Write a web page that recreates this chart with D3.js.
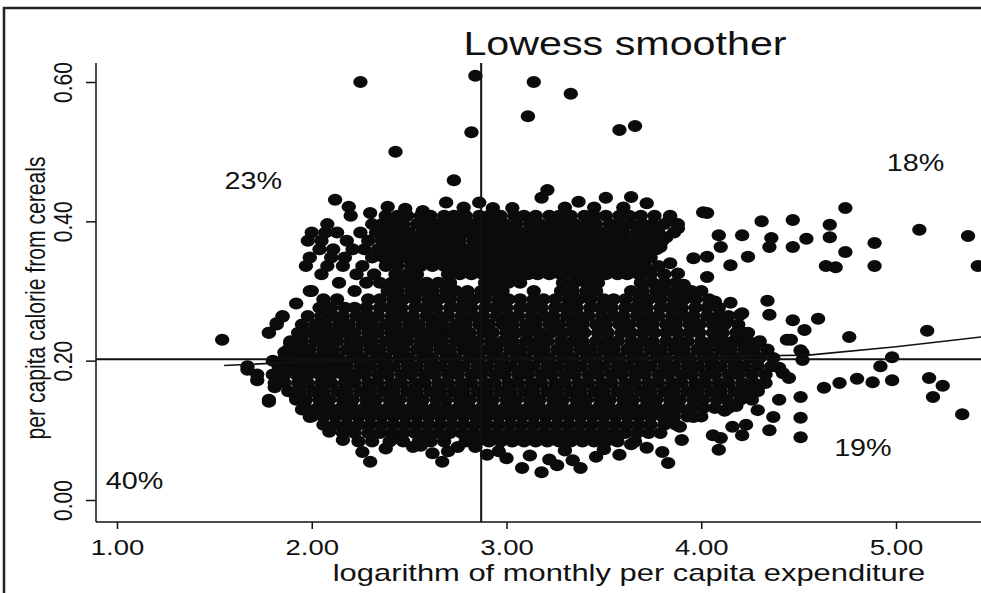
<!DOCTYPE html>
<html>
<head>
<meta charset="utf-8">
<script src="https://cdn.jsdelivr.net/npm/d3@7"></script>
<style>
body { margin: 0; background: #fff; }
text { font-family: "Liberation Sans", Arial, sans-serif; fill: #111; }
</style>
</head>
<body>
<script>
// Axis ticks
const xTicks = [1, 2, 3, 4, 5];
const yTicks = [0, 0.2, 0.4, 0.6];

// Mean reference lines
const meanX = 2.87;
const meanY = 0.202;

// Lowess smoother
const lowessX = [1.55, 2.0, 2.5, 3.0, 3.5, 4.0, 4.55, 5.0, 5.44];
const lowessY = [0.193, 0.199, 0.202, 0.204, 0.205, 0.206, 0.208, 0.220, 0.234];

// Quadrant shares
const quadrantText = ["23%", "18%", "19%", "40%"];
const quadrantX = [1.70, 5.10, 4.83, 1.09];
const quadrantY = [0.446, 0.472, 0.063, 0.016];

// Households: isolated points [log expenditure, cereal calorie share]
const outliers = [
  [2.25, 0.600], [2.84, 0.609], [3.14, 0.600], [3.33, 0.583], [3.11, 0.551],
  [2.82, 0.528], [3.58, 0.531], [3.66, 0.537], [2.43, 0.500], [2.73, 0.459]
];

const upperEdge = [
  [2.12, 0.431], [2.19, 0.421], [2.39, 0.421], [2.57, 0.415], [2.69, 0.427],
  [2.78, 0.420], [2.86, 0.427], [2.93, 0.419], [3.03, 0.419], [3.18, 0.434],
  [3.21, 0.445], [3.30, 0.420], [3.37, 0.428], [3.45, 0.420], [3.51, 0.434],
  [3.60, 0.420], [3.64, 0.435], [3.72, 0.426], [2.48, 0.418], [2.30, 0.412]
];

const rightScatter = [
  [4.03, 0.412], [4.31, 0.400], [4.47, 0.402], [4.74, 0.419], [4.66, 0.395],
  [4.66, 0.377], [4.54, 0.375], [4.47, 0.363], [4.36, 0.376], [4.35, 0.363],
  [4.21, 0.380], [4.09, 0.380], [4.10, 0.363], [4.03, 0.349], [4.15, 0.337],
  [4.24, 0.349], [4.03, 0.320], [4.74, 0.356], [4.64, 0.336], [4.69, 0.334],
  [4.89, 0.369], [4.89, 0.336], [5.12, 0.388], [5.37, 0.379], [5.42, 0.336],
  [3.84, 0.406], [3.88, 0.390], [4.01, 0.413], [3.96, 0.347], [3.91, 0.309],
  [3.73, 0.327], [3.82, 0.377], [3.79, 0.363], [3.84, 0.340], [3.88, 0.325],
  [3.92, 0.290], [3.80, 0.300],
  [4.15, 0.283], [4.34, 0.286], [4.20, 0.266], [4.35, 0.266], [4.60, 0.260],
  [4.53, 0.244], [4.44, 0.230], [4.16, 0.227], [4.76, 0.234], [5.16, 0.243],
  [4.98, 0.205], [4.92, 0.192], [4.80, 0.174], [4.88, 0.169], [4.98, 0.172],
  [5.17, 0.175], [5.24, 0.164], [5.19, 0.148], [5.34, 0.123], [4.71, 0.168],
  [4.63, 0.161], [4.52, 0.201], [4.51, 0.215], [4.13, 0.258], [4.21, 0.268],
  [4.47, 0.258], [4.46, 0.230], [4.52, 0.211], [4.40, 0.190], [4.42, 0.182],
  [4.45, 0.175], [4.28, 0.225], [4.22, 0.240], [4.10, 0.250], [4.07, 0.285],
  [4.00, 0.300]
];

const lowerEdge = [
  [1.54, 0.230], [1.67, 0.187], [1.72, 0.172], [1.81, 0.162], [1.78, 0.141],
  [1.92, 0.148], [1.78, 0.240], [1.82, 0.254], [1.85, 0.263], [1.89, 0.225],
  [1.86, 0.212], [1.80, 0.200], [1.95, 0.130], [1.92, 0.282], [2.00, 0.300],
  [1.99, 0.119], [2.09, 0.098], [2.16, 0.086],
  [2.26, 0.069], [2.30, 0.055], [2.44, 0.089], [2.52, 0.076], [2.62, 0.067],
  [2.67, 0.055], [2.75, 0.076], [2.90, 0.065], [2.96, 0.070], [3.08, 0.046],
  [3.18, 0.040], [3.26, 0.050], [3.34, 0.057], [3.38, 0.046], [3.46, 0.062],
  [3.58, 0.065], [3.72, 0.075], [3.80, 0.069], [3.83, 0.053], [3.90, 0.086],
  [4.09, 0.072], [4.10, 0.089], [4.21, 0.093], [4.23, 0.108], [4.35, 0.100],
  [4.37, 0.119], [4.51, 0.090], [4.51, 0.118], [3.89, 0.105], [4.06, 0.093],
  [3.96, 0.119], [4.16, 0.105], [4.29, 0.129], [4.40, 0.144], [4.51, 0.148],
  [4.24, 0.155], [4.30, 0.165], [4.18, 0.135], [4.12, 0.128],
  [2.38, 0.074], [2.56, 0.078], [2.70, 0.070], [2.84, 0.076], [3.00, 0.060],
  [3.12, 0.064], [3.22, 0.058], [3.30, 0.071], [3.50, 0.073], [3.64, 0.080]
];

// Dense core, read row by row: [cereal share, [log expenditure values]]
const upperRows = [
  [0.408, [2.20, 2.38, 2.44, 2.49, 2.56, 2.61, 2.68, 2.73, 2.79, 2.86, 2.91, 2.97, 3.04, 3.09, 3.15, 3.22, 3.27, 3.33, 3.40, 3.45, 3.51, 3.58, 3.63, 3.69, 3.76, 3.84]],
  [0.396, [2.08, 2.31, 2.36, 2.42, 2.47, 2.54, 2.59, 2.65, 2.71, 2.76, 2.82, 2.88, 2.94, 2.99, 3.05, 3.12, 3.17, 3.23, 3.29, 3.35, 3.41, 3.46, 3.53, 3.58, 3.64, 3.70, 3.75, 3.81, 3.88]],
  [0.384, [2.00, 2.07, 2.13, 2.25, 2.33, 2.39, 2.45, 2.50, 2.57, 2.62, 2.68, 2.74, 2.80, 2.85, 2.91, 2.97, 3.03, 3.08, 3.14, 3.20, 3.26, 3.32, 3.37, 3.43, 3.49, 3.55, 3.60, 3.67, 3.72, 3.78, 3.86]],
  [0.372, [1.98, 2.05, 2.18, 2.29, 2.36, 2.41, 2.47, 2.53, 2.59, 2.65, 2.70, 2.76, 2.83, 2.88, 2.94, 3.00, 3.06, 3.11, 3.17, 3.23, 3.29, 3.34, 3.40, 3.46, 3.52, 3.58, 3.63, 3.69, 3.75, 3.80]],
  [0.360, [2.04, 2.11, 2.21, 2.27, 2.34, 2.39, 2.44, 2.50, 2.56, 2.62, 2.68, 2.73, 2.79, 2.85, 2.91, 2.97, 3.02, 3.08, 3.14, 3.20, 3.26, 3.31, 3.37, 3.43, 3.49, 3.55, 3.60, 3.66, 3.72, 3.77]],
  [0.348, [1.99, 2.10, 2.17, 2.31, 2.37, 2.42, 2.48, 2.53, 2.59, 2.65, 2.71, 2.76, 2.82, 2.88, 2.94, 2.99, 3.05, 3.11, 3.17, 3.23, 3.28, 3.34, 3.40, 3.46, 3.51, 3.57, 3.63, 3.69, 3.74]],
  [0.336, [1.97, 2.08, 2.16, 2.26, 2.38, 2.44, 2.51, 2.56, 2.62, 2.68, 2.73, 2.79, 2.85, 2.91, 2.96, 3.02, 3.08, 3.14, 3.19, 3.25, 3.31, 3.37, 3.43, 3.48, 3.54, 3.60, 3.66, 3.71, 3.78]],
  [0.324, [2.05, 2.23, 2.32, 2.43, 2.49, 2.54, 2.70, 2.76, 2.82, 2.88, 2.93, 2.99, 3.05, 3.11, 3.16, 3.22, 3.28, 3.34, 3.39, 3.45, 3.51, 3.57, 3.62, 3.68, 3.74, 3.81]],
  [0.312, [2.14, 2.28, 2.35, 2.41, 2.47, 2.53, 2.59, 2.65, 2.71, 2.89, 2.95, 3.01, 3.07, 3.29, 3.35, 3.41, 3.47, 3.69, 3.75, 3.81, 3.87]]
];

const lowerRows = [
  [0.300, [1.99, 2.22, 2.39, 2.44, 2.51, 2.56, 2.62, 2.69, 2.74, 2.80, 2.87, 2.92, 2.98, 3.14, 3.28, 3.34, 3.41, 3.46, 3.64, 3.70, 3.77, 3.82, 3.88, 3.95]],
  [0.288, [2.06, 2.13, 2.29, 2.35, 2.42, 2.47, 2.53, 2.60, 2.65, 2.71, 2.78, 2.83, 2.89, 2.96, 3.01, 3.07, 3.14, 3.19, 3.25, 3.32, 3.37, 3.43, 3.50, 3.55, 3.61, 3.68, 3.73, 3.79, 3.86, 3.91, 3.97, 4.04]],
  [0.276, [2.04, 2.10, 2.17, 2.22, 2.28, 2.35, 2.40, 2.46, 2.53, 2.58, 2.64, 2.71, 2.76, 2.82, 2.89, 2.94, 3.00, 3.07, 3.12, 3.18, 3.25, 3.30, 3.36, 3.43, 3.48, 3.54, 3.61, 3.66, 3.72, 3.79, 3.84, 3.90, 3.97, 4.03, 4.09]],
  [0.264, [1.85, 1.98, 2.05, 2.11, 2.16, 2.23, 2.29, 2.34, 2.41, 2.47, 2.52, 2.59, 2.65, 2.70, 2.77, 2.83, 2.88, 2.95, 3.01, 3.06, 3.13, 3.19, 3.24, 3.31, 3.37, 3.42, 3.49, 3.55, 3.60, 3.67, 3.73, 3.78, 3.85, 3.91, 3.96, 4.03, 4.09, 4.14]],
  [0.252, [1.82, 1.95, 2.02, 2.07, 2.14, 2.19, 2.26, 2.31, 2.38, 2.43, 2.50, 2.55, 2.62, 2.67, 2.74, 2.79, 2.86, 2.91, 2.98, 3.03, 3.10, 3.15, 3.22, 3.27, 3.34, 3.39, 3.46, 3.51, 3.58, 3.63, 3.70, 3.75, 3.82, 3.87, 3.94, 3.99, 4.06, 4.12, 4.19]],
  [0.240, [1.78, 1.93, 1.99, 2.05, 2.11, 2.17, 2.22, 2.29, 2.34, 2.41, 2.46, 2.52, 2.58, 2.64, 2.70, 2.76, 2.81, 2.88, 2.93, 3.00, 3.05, 3.11, 3.17, 3.23, 3.29, 3.35, 3.40, 3.47, 3.52, 3.59, 3.64, 3.70, 3.76, 3.82, 3.88, 3.94, 3.99, 4.06, 4.11, 4.18, 4.24]],
  [0.228, [1.89, 1.95, 2.02, 2.08, 2.13, 2.20, 2.26, 2.31, 2.38, 2.44, 2.49, 2.56, 2.62, 2.67, 2.74, 2.80, 2.85, 2.92, 2.98, 3.03, 3.10, 3.16, 3.21, 3.28, 3.34, 3.39, 3.46, 3.52, 3.57, 3.64, 3.70, 3.75, 3.82, 3.88, 3.93, 4.00, 4.06, 4.11, 4.18, 4.24, 4.30]],
  [0.216, [1.88, 1.94, 1.99, 2.06, 2.11, 2.18, 2.23, 2.30, 2.35, 2.42, 2.47, 2.54, 2.59, 2.66, 2.71, 2.78, 2.83, 2.90, 2.95, 3.02, 3.07, 3.14, 3.19, 3.26, 3.31, 3.38, 3.43, 3.50, 3.55, 3.62, 3.67, 3.74, 3.79, 3.86, 3.91, 3.98, 4.03, 4.10, 4.15, 4.22, 4.27, 4.34]],
  [0.204, [1.86, 1.91, 1.97, 2.03, 2.09, 2.14, 2.21, 2.26, 2.33, 2.38, 2.45, 2.50, 2.57, 2.62, 2.69, 2.74, 2.81, 2.86, 2.93, 2.98, 3.05, 3.10, 3.17, 3.22, 3.29, 3.34, 3.41, 3.46, 3.53, 3.58, 3.65, 3.70, 3.77, 3.82, 3.89, 3.94, 4.01, 4.06, 4.13, 4.18, 4.25, 4.30, 4.37]],
  [0.192, [1.67, 1.83, 1.89, 1.95, 2.01, 2.07, 2.13, 2.18, 2.25, 2.30, 2.37, 2.42, 2.49, 2.54, 2.61, 2.66, 2.73, 2.78, 2.85, 2.90, 2.97, 3.02, 3.09, 3.14, 3.21, 3.26, 3.33, 3.38, 3.45, 3.50, 3.57, 3.62, 3.69, 3.74, 3.81, 3.86, 3.93, 3.98, 4.05, 4.10, 4.17, 4.22, 4.29, 4.36]],
  [0.180, [1.72, 1.80, 1.86, 1.92, 1.98, 2.04, 2.10, 2.16, 2.22, 2.27, 2.34, 2.39, 2.46, 2.51, 2.58, 2.63, 2.70, 2.75, 2.82, 2.87, 2.94, 2.99, 3.06, 3.11, 3.18, 3.23, 3.30, 3.35, 3.42, 3.47, 3.54, 3.59, 3.66, 3.71, 3.78, 3.83, 3.90, 3.95, 4.02, 4.07, 4.14, 4.19, 4.26, 4.33]],
  [0.168, [1.81, 1.86, 1.93, 1.98, 2.05, 2.10, 2.17, 2.22, 2.29, 2.34, 2.41, 2.46, 2.53, 2.58, 2.65, 2.70, 2.77, 2.82, 2.89, 2.94, 3.01, 3.06, 3.13, 3.18, 3.25, 3.30, 3.37, 3.42, 3.49, 3.54, 3.61, 3.66, 3.73, 3.78, 3.85, 3.90, 3.97, 4.02, 4.09, 4.14, 4.21, 4.27, 4.33]],
  [0.156, [1.88, 1.94, 2.01, 2.06, 2.13, 2.18, 2.25, 2.30, 2.37, 2.42, 2.49, 2.54, 2.61, 2.66, 2.73, 2.78, 2.85, 2.90, 2.97, 3.02, 3.09, 3.14, 3.21, 3.26, 3.33, 3.38, 3.45, 3.50, 3.57, 3.62, 3.69, 3.74, 3.81, 3.86, 3.93, 3.98, 4.05, 4.10, 4.17, 4.23, 4.29]],
  [0.144, [1.78, 1.92, 1.97, 2.04, 2.09, 2.16, 2.21, 2.28, 2.33, 2.40, 2.45, 2.52, 2.57, 2.64, 2.69, 2.76, 2.81, 2.88, 2.93, 3.00, 3.05, 3.12, 3.17, 3.24, 3.29, 3.36, 3.41, 3.48, 3.53, 3.60, 3.65, 3.72, 3.77, 3.84, 3.89, 3.96, 4.01, 4.08, 4.13, 4.20, 4.26]],
  [0.132, [1.97, 2.03, 2.09, 2.15, 2.21, 2.27, 2.33, 2.39, 2.45, 2.51, 2.57, 2.63, 2.69, 2.75, 2.81, 2.87, 2.93, 2.99, 3.05, 3.11, 3.17, 3.23, 3.29, 3.35, 3.41, 3.47, 3.53, 3.59, 3.65, 3.71, 3.77, 3.83, 3.89, 3.95, 4.01, 4.07, 4.14]],
  [0.120, [2.00, 2.06, 2.12, 2.18, 2.24, 2.30, 2.36, 2.42, 2.48, 2.54, 2.60, 2.66, 2.72, 2.78, 2.84, 2.90, 2.96, 3.02, 3.08, 3.14, 3.20, 3.26, 3.32, 3.38, 3.44, 3.50, 3.56, 3.62, 3.68, 3.74, 3.80, 3.86, 3.93, 4.00]],
  [0.108, [2.06, 2.12, 2.18, 2.24, 2.30, 2.36, 2.42, 2.48, 2.54, 2.60, 2.66, 2.72, 2.78, 2.84, 2.90, 2.96, 3.02, 3.08, 3.14, 3.20, 3.26, 3.32, 3.38, 3.44, 3.50, 3.56, 3.62, 3.68, 3.74, 3.81, 3.87]],
  [0.096, [2.16, 2.22, 2.29, 2.35, 2.41, 2.47, 2.53, 2.59, 2.65, 2.71, 2.77, 2.83, 2.89, 2.95, 3.01, 3.07, 3.13, 3.19, 3.25, 3.31, 3.37, 3.43, 3.49, 3.55, 3.61, 3.67, 3.73, 3.79]],
  [0.084, [2.24, 2.31, 2.40, 2.47, 2.55, 2.61, 2.68, 2.79, 2.85, 2.91, 2.97, 3.03, 3.09, 3.15, 3.21, 3.27, 3.33, 3.39, 3.45, 3.51, 3.57, 3.66]]
];

// Layout
const width = 981, height = 593;
const plot = { left: 96, right: 981, top: 63, bottom: 522 };
const stretch = 1.25; // scanned page is a bit wider than tall

const svg = d3.select("body").append("svg")
  .attr("width", width)
  .attr("height", height);

const x = d3.scaleLinear().domain([1, 5]).range([117, 896]);
const y = d3.scaleLinear().domain([0, 0.6]).range([500, 82]);

// page frame
svg.append("path")
  .attr("d", `M4,${height} V8 H${width}`)
  .attr("fill", "none")
  .attr("stroke", "#222")
  .attr("stroke-width", 2.5);

// points
const rowPoints = upperRows.concat(lowerRows)
  .flatMap(r => r[1].map(v => [v, r[0]]));
const points = outliers.concat(upperEdge, rightScatter, lowerEdge, rowPoints);

svg.append("g")
  .selectAll("ellipse")
  .data(points)
  .join("ellipse")
  .attr("cx", d => x(d[0]))
  .attr("cy", d => y(d[1]))
  .attr("rx", 7.2)
  .attr("ry", 6)
  .attr("fill", "#0b0b0b");

// mean lines
svg.append("line")
  .attr("x1", plot.left).attr("x2", plot.right)
  .attr("y1", y(meanY)).attr("y2", y(meanY))
  .attr("stroke", "#111").attr("stroke-width", 1.8);
svg.append("line")
  .attr("x1", x(meanX)).attr("x2", x(meanX))
  .attr("y1", plot.top).attr("y2", plot.bottom)
  .attr("stroke", "#111").attr("stroke-width", 2);

// lowess
const lowess = d3.line().x(d => x(d[0])).y(d => y(d[1]));
svg.append("path")
  .attr("d", lowess(d3.zip(lowessX, lowessY)))
  .attr("fill", "none")
  .attr("stroke", "#111")
  .attr("stroke-width", 1.6);

// y axis
const gy = svg.append("g")
  .attr("transform", `translate(${plot.left},0)`)
  .call(d3.axisLeft(y).tickValues(yTicks).tickSize(10).tickFormat(d3.format(".2f")));
gy.select(".domain").remove();
gy.selectAll(".tick line").attr("stroke", "#111").attr("stroke-width", 1.5);
gy.selectAll(".tick text")
  .attr("x", null).attr("dy", null)
  .attr("text-anchor", "middle")
  .attr("transform", `translate(-24,0) scale(${stretch},1) rotate(-90)`)
  .attr("fill", "#111")
  .style("font-size", "21px");
svg.append("line")
  .attr("x1", plot.left).attr("x2", plot.left)
  .attr("y1", plot.top).attr("y2", plot.bottom)
  .attr("stroke", "#111").attr("stroke-width", 1.5);

// x axis
const gx = svg.append("g")
  .attr("transform", `translate(0,${plot.bottom})`)
  .call(d3.axisBottom(x).tickValues(xTicks).tickSize(7).tickFormat(d3.format(".2f")));
gx.select(".domain").remove();
gx.selectAll(".tick line").attr("stroke", "#111").attr("stroke-width", 1.5);
gx.selectAll(".tick text")
  .attr("y", null).attr("dy", null)
  .attr("transform", `translate(0,33) scale(${stretch},1)`)
  .attr("fill", "#111")
  .style("font-size", "22px");
svg.append("line")
  .attr("x1", plot.left).attr("x2", plot.right)
  .attr("y1", plot.bottom).attr("y2", plot.bottom)
  .attr("stroke", "#111").attr("stroke-width", 1.5);

// titles
svg.append("text")
  .attr("transform", `translate(625,55) scale(${stretch},1)`)
  .attr("text-anchor", "middle")
  .style("font-size", "33px")
  .text("Lowess smoother");

svg.append("text")
  .attr("transform", `translate(629,581) scale(${stretch},1)`)
  .attr("text-anchor", "middle")
  .attr("textLength", 474)
  .attr("lengthAdjust", "spacingAndGlyphs")
  .style("font-size", "24px")
  .text("logarithm of monthly per capita expenditure");

svg.append("text")
  .attr("transform", `translate(45,298) scale(${stretch},1) rotate(-90)`)
  .attr("text-anchor", "middle")
  .attr("textLength", 283)
  .attr("lengthAdjust", "spacingAndGlyphs")
  .style("font-size", "22px")
  .text("per capita calorie from cereals");

// quadrant shares
svg.append("g")
  .selectAll("text")
  .data(quadrantText)
  .join("text")
  .attr("transform", (d, i) => `translate(${x(quadrantX[i])},${y(quadrantY[i])}) scale(${stretch},1)`)
  .attr("text-anchor", "middle")
  .style("font-size", "23px")
  .text(d => d);
</script>
</body>
</html>
